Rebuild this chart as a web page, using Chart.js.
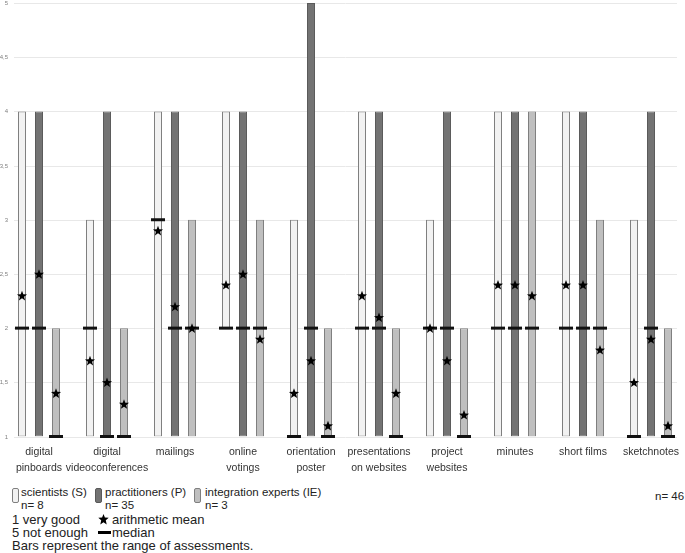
<!DOCTYPE html>
<html>
<head>
<meta charset="utf-8">
<script src="https://cdn.jsdelivr.net/npm/chart.js@4/dist/chart.umd.min.js"></script>
<style>
body { margin: 0; background: #fff; font-family: "Liberation Sans", Arial, sans-serif; color: #222; }
#wrap { position: relative; width: 685px; height: 553px; }
#box { position: absolute; left: 0; top: 0; width: 685px; height: 485px; }
.lg { position: absolute; font-size: 11.5px; line-height: 13px; white-space: nowrap; }
.lg2 { position: absolute; font-size: 13px; line-height: 13px; white-space: nowrap; }
.sw { position: absolute; width: 5px; height: 13px; border: 1px solid #7f7f7f; border-radius: 2px; }
</style>
</head>
<body>
<div id="wrap">
  <div id="box"><canvas id="grafico"></canvas></div>

  <div class="sw" style="left:12px; top:488px; background:#f2f2f2;"></div>
  <div class="lg" style="left:21px; top:486px;">scientists (S)<br>n= 8</div>
  <div class="sw" style="left:95px; top:488px; background:#737373; border-color:#595959;"></div>
  <div class="lg" style="left:105px; top:486px;">practitioners (P)<br>n= 35</div>
  <div class="sw" style="left:194px; top:488px; background:#bfbfbf;"></div>
  <div class="lg" style="left:205px; top:486px;">integration experts (IE)<br>n= 3</div>
  <div class="lg" style="left:655px; top:490px;">n= 46</div>

  <div class="lg2" style="left:12px; top:513px;">1 very good<br>5 not enough<br>Bars represent the range of assessments.</div>
  <svg style="position:absolute; left:98px; top:514px;" width="11" height="11" viewBox="0 0 11 11">
    <polygon points="5.5,0 6.9,3.6 10.7,3.8 7.8,6.2 8.7,10.5 5.5,8.2 2.3,10.5 3.2,6.2 0.3,3.8 4.1,3.6" fill="#000"/>
  </svg>
  <div class="lg2" style="left:112px; top:513px;">arithmetic mean</div>
  <div style="position:absolute; left:98px; top:531px; width:13px; height:3px; background:#000;"></div>
  <div class="lg2" style="left:112px; top:526px;">median</div>
</div>

<script>
// categorias
var categorias = [
    ['digital', 'pinboards'], ['digital', 'videoconferences'], ['mailings'], ['online', 'votings'],
    ['orientation', 'poster'], ['presentations', 'on websites'], ['project', 'websites'],
    ['minutes'], ['short films'], ['sketchnotes']
];

// scientists (S)
var sMin = [1, 1, 1, 2, 1, 1, 1, 1, 1, 1];
var sMax = [4, 3, 4, 4, 3, 4, 3, 4, 4, 3];
var sMedia = [2.3, 1.7, 2.9, 2.4, 1.4, 2.3, 2.0, 2.4, 2.4, 1.5];
var sMediana = [2, 2, 3, 2, 1, 2, 2, 2, 2, 1];

// practitioners (P)
var pMin = [1, 1, 1, 1, 1, 1, 1, 1, 1, 1];
var pMax = [4, 4, 4, 4, 5, 4, 4, 4, 4, 4];
var pMedia = [2.5, 1.5, 2.2, 2.5, 1.7, 2.1, 1.7, 2.4, 2.4, 1.9];
var pMediana = [2, 1, 2, 2, 2, 2, 2, 2, 2, 2];

// integration experts (IE)
var ieMin = [1, 1, 1, 1, 1, 1, 1, 1, 1, 1];
var ieMax = [2, 2, 3, 3, 2, 2, 2, 4, 3, 2];
var ieMedia = [1.4, 1.3, 2.0, 1.9, 1.1, 1.4, 1.2, 2.3, 1.8, 1.1];
var ieMediana = [1, 1, 2, 2, 1, 1, 1, 2, 2, 1];

var yTicks = [1, 1.5, 2, 2.5, 3, 3.5, 4, 4.5, 5];

var medias = [sMedia, pMedia, ieMedia];
var medianas = [sMediana, pMediana, ieMediana];

function faixa(min, max) {
    return min.map(function (v, i) { return [v, max[i]]; });
}

function desenhaEstrela(c, x, y, r) {
    c.beginPath();
    for (var k = 0; k < 10; k++) {
        var rr = k % 2 === 0 ? r : r * 0.42;
        var a = -Math.PI / 2 + k * Math.PI / 5;
        var px = x + rr * Math.cos(a), py = y + rr * Math.sin(a);
        if (k === 0) c.moveTo(px, py); else c.lineTo(px, py);
    }
    c.closePath();
    c.fill();
}

// linhas de grade e rotulos do eixo y
var gradePlugin = {
    id: 'grade',
    beforeDatasetsDraw: function (chart) {
        var ctx = chart.ctx;
        var y = chart.scales.y;
        ctx.save();
        yTicks.forEach(function (t) {
            var py = Math.round(y.getPixelForValue(t)) + 0.5;
            ctx.strokeStyle = '#e8e8e8';
            ctx.lineWidth = 1;
            ctx.beginPath();
            ctx.moveTo(14, py);
            ctx.lineTo(677, py);
            ctx.stroke();
            ctx.fillStyle = '#808080';
            ctx.font = '6px "Liberation Sans", Arial, sans-serif';
            ctx.textAlign = 'right';
            ctx.textBaseline = 'middle';
            ctx.fillText(String(t).replace('.', ','), 8, py);
        });
        ctx.restore();
    }
};

// mediana (traco) e media (estrela) sobre cada barra
var marcasPlugin = {
    id: 'marcas',
    afterDatasetsDraw: function (chart) {
        var ctx = chart.ctx;
        var y = chart.scales.y;
        ctx.save();
        for (var g = 0; g < 3; g++) {
            var meta = chart.getDatasetMeta(g);
            meta.data.forEach(function (barra, j) {
                var ym = y.getPixelForValue(medianas[g][j]);
                ctx.fillStyle = '#111';
                ctx.fillRect(barra.x - 7, ym - 1.5, 14, 3);
            });
        }
        for (var g2 = 0; g2 < 3; g2++) {
            var meta2 = chart.getDatasetMeta(g2);
            meta2.data.forEach(function (barra, j) {
                ctx.fillStyle = '#000';
                desenhaEstrela(ctx, barra.x, y.getPixelForValue(medias[g2][j]) + 0.5, 5.3);
            });
        }
        ctx.restore();
    }
};

var barra = { categoryPercentage: 0.75, barPercentage: 0.47, borderWidth: 1, borderSkipped: false };

var ctx = document.getElementById('grafico');
var myChart = new Chart(ctx, {
    type: 'bar',
    data: {
        labels: categorias,
        datasets: [
            Object.assign({ label: 'scientists (S)', data: faixa(sMin, sMax), backgroundColor: '#f2f2f2', borderColor: '#7f7f7f' }, barra),
            Object.assign({ label: 'practitioners (P)', data: faixa(pMin, pMax), backgroundColor: '#737373', borderColor: '#5a5a5a' }, barra),
            Object.assign({ label: 'integration experts (IE)', data: faixa(ieMin, ieMax), backgroundColor: '#bfbfbf', borderColor: '#7f7f7f' }, barra)
        ]
    },
    options: {
        responsive: true,
        maintainAspectRatio: false,
        animation: false,
        layout: { padding: { left: 5, right: 0, top: 3, bottom: 1 } },
        plugins: { legend: { display: false }, tooltip: { enabled: false } },
        scales: {
            x: {
                type: 'category',
                grid: { display: false, drawTicks: false },
                border: { display: false },
                ticks: {
                    color: '#333',
                    padding: 8,
                    maxRotation: 0,
                    autoSkip: false,
                    font: { family: '"Liberation Sans", Arial, sans-serif', size: 10.5, lineHeight: 1.5 }
                },
                afterFit: function (escala) {
                    escala.paddingLeft = 0;
                    escala.paddingRight = 0;
                }
            },
            y: {
                min: 1,
                max: 5,
                grid: { display: false, drawTicks: false },
                border: { display: false },
                ticks: { display: false, stepSize: 0.5 }
            }
        }
    },
    plugins: [gradePlugin, marcasPlugin]
});
</script>
</body>
</html>
